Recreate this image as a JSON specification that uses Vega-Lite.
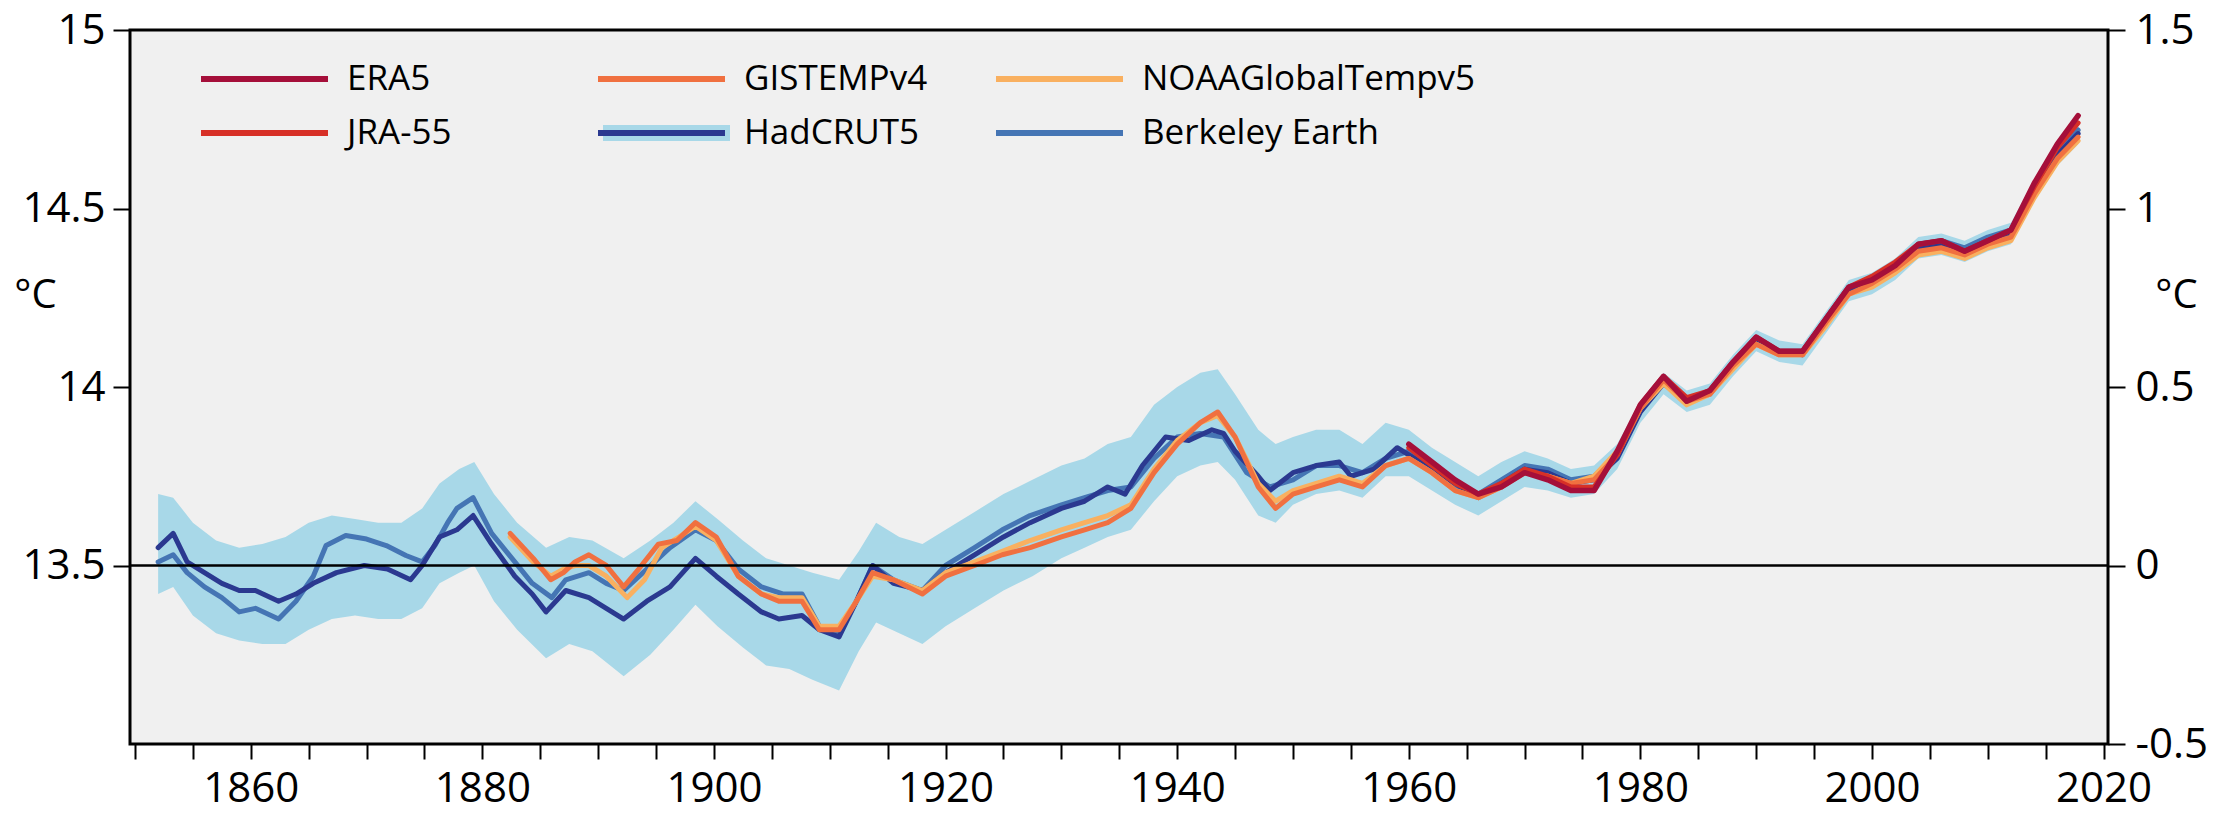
{
  "$schema": "https://vega.github.io/schema/vega-lite/v6.json",
  "width": 1978,
  "height": 714,
  "autosize": {"type": "none"},
  "padding": {"left": 130, "top": 30, "right": 110, "bottom": 69},
  "background": "white",
  "config": {
    "font": "Open Sans",
    "view": {"fill": "#f0f0f0", "stroke": "#000000", "strokeWidth": 3},
    "axis": {"domain": false, "grid": false, "tickColor": "#000000", "tickWidth": 2, "labelColor": "#000000", "titleColor": "#000000", "labelFont": "Open Sans", "titleFont": "Open Sans", "titleFontWeight": "normal"},
    "legend": {"orient": "none", "clipHeight": 40, "symbolType": "stroke", "symbolSize": 16129, "symbolStrokeWidth": 6, "labelOffset": 16, "labelLimit": 500, "labelFontSize": 35, "labelColor": "#000000", "labelFont": "Open Sans", "padding": 0, "titleFontSize": 1}
  },
  "datasets": {
    "band": [
      {"x":1852,"lo":13.42,"hi":13.70},{"x":1853.3,"lo":13.44,"hi":13.69},{"x":1855,"lo":13.36,"hi":13.62},{"x":1857,"lo":13.31,"hi":13.57},{"x":1859,"lo":13.29,"hi":13.55},{"x":1861,"lo":13.28,"hi":13.56},{"x":1863,"lo":13.28,"hi":13.58},{"x":1865,"lo":13.32,"hi":13.62},{"x":1867,"lo":13.35,"hi":13.64},{"x":1869,"lo":13.36,"hi":13.63},{"x":1871,"lo":13.35,"hi":13.62},{"x":1873,"lo":13.35,"hi":13.62},{"x":1874.8,"lo":13.38,"hi":13.66},{"x":1876.3,"lo":13.45,"hi":13.73},{"x":1878,"lo":13.48,"hi":13.77},{"x":1879.3,"lo":13.50,"hi":13.79},{"x":1881,"lo":13.40,"hi":13.70},{"x":1883,"lo":13.32,"hi":13.62},{"x":1885.5,"lo":13.24,"hi":13.55},{"x":1887.5,"lo":13.28,"hi":13.58},{"x":1889.5,"lo":13.26,"hi":13.57},{"x":1892.2,"lo":13.19,"hi":13.52},{"x":1894.5,"lo":13.25,"hi":13.57},{"x":1896.5,"lo":13.32,"hi":13.62},{"x":1898.4,"lo":13.39,"hi":13.68},{"x":1900.3,"lo":13.33,"hi":13.63},{"x":1902.5,"lo":13.27,"hi":13.57},{"x":1904.5,"lo":13.22,"hi":13.52},{"x":1906.5,"lo":13.21,"hi":13.50},{"x":1908.5,"lo":13.18,"hi":13.48},{"x":1910.8,"lo":13.15,"hi":13.46},{"x":1912.5,"lo":13.26,"hi":13.54},{"x":1914,"lo":13.34,"hi":13.62},{"x":1916,"lo":13.31,"hi":13.58},{"x":1918,"lo":13.28,"hi":13.56},{"x":1920,"lo":13.33,"hi":13.60},{"x":1922.5,"lo":13.38,"hi":13.65},{"x":1925,"lo":13.43,"hi":13.70},{"x":1927.5,"lo":13.47,"hi":13.74},{"x":1930,"lo":13.52,"hi":13.78},{"x":1932,"lo":13.55,"hi":13.80},{"x":1934,"lo":13.58,"hi":13.84},{"x":1936,"lo":13.60,"hi":13.86},{"x":1938,"lo":13.68,"hi":13.95},{"x":1940,"lo":13.75,"hi":14.00},{"x":1942,"lo":13.78,"hi":14.04},{"x":1943.5,"lo":13.79,"hi":14.05},{"x":1945,"lo":13.74,"hi":13.98},{"x":1947,"lo":13.64,"hi":13.88},{"x":1948.5,"lo":13.62,"hi":13.84},{"x":1950,"lo":13.67,"hi":13.86},{"x":1952,"lo":13.70,"hi":13.88},{"x":1954,"lo":13.71,"hi":13.88},{"x":1956,"lo":13.69,"hi":13.84},{"x":1958,"lo":13.75,"hi":13.90},{"x":1960,"lo":13.75,"hi":13.88},{"x":1962,"lo":13.71,"hi":13.83},{"x":1964,"lo":13.67,"hi":13.79},{"x":1966,"lo":13.64,"hi":13.75},{"x":1968,"lo":13.68,"hi":13.79},{"x":1970,"lo":13.72,"hi":13.82},{"x":1972,"lo":13.71,"hi":13.80},{"x":1974,"lo":13.69,"hi":13.77},{"x":1976,"lo":13.70,"hi":13.78},{"x":1978,"lo":13.77,"hi":13.84},{"x":1980,"lo":13.90,"hi":13.96},{"x":1982,"lo":13.98,"hi":14.04},{"x":1984,"lo":13.93,"hi":13.99},{"x":1986,"lo":13.95,"hi":14.01},{"x":1988,"lo":14.03,"hi":14.09},{"x":1990,"lo":14.10,"hi":14.16},{"x":1992,"lo":14.07,"hi":14.13},{"x":1994,"lo":14.06,"hi":14.12},{"x":1996,"lo":14.15,"hi":14.21},{"x":1998,"lo":14.24,"hi":14.30},{"x":2000,"lo":14.26,"hi":14.32},{"x":2002,"lo":14.30,"hi":14.36},{"x":2004,"lo":14.36,"hi":14.42},{"x":2006,"lo":14.37,"hi":14.43},{"x":2008,"lo":14.35,"hi":14.41},{"x":2010,"lo":14.38,"hi":14.44},{"x":2012,"lo":14.40,"hi":14.46},{"x":2014,"lo":14.52,"hi":14.58},{"x":2016,"lo":14.62,"hi":14.68},{"x":2017.8,"lo":14.68,"hi":14.74}
    ],
    "series": [
      {"s":"Berkeley Earth","x":1852,"t":13.51},{"s":"Berkeley Earth","x":1853.3,"t":13.53},{"s":"Berkeley Earth","x":1854.5,"t":13.48},{"s":"Berkeley Earth","x":1856,"t":13.44},{"s":"Berkeley Earth","x":1857.5,"t":13.41},{"s":"Berkeley Earth","x":1859,"t":13.37},{"s":"Berkeley Earth","x":1860.4,"t":13.38},{"s":"Berkeley Earth","x":1862.4,"t":13.35},{"s":"Berkeley Earth","x":1863.9,"t":13.40},{"s":"Berkeley Earth","x":1865.4,"t":13.47},{"s":"Berkeley Earth","x":1866.5,"t":13.556},{"s":"Berkeley Earth","x":1868.2,"t":13.584},{"s":"Berkeley Earth","x":1870,"t":13.574},{"s":"Berkeley Earth","x":1871.7,"t":13.556},{"s":"Berkeley Earth","x":1873.4,"t":13.528},{"s":"Berkeley Earth","x":1874.8,"t":13.51},{"s":"Berkeley Earth","x":1875.9,"t":13.556},{"s":"Berkeley Earth","x":1877,"t":13.62},{"s":"Berkeley Earth","x":1877.8,"t":13.66},{"s":"Berkeley Earth","x":1879.2,"t":13.69},{"s":"Berkeley Earth","x":1880.8,"t":13.59},{"s":"Berkeley Earth","x":1882.8,"t":13.51},{"s":"Berkeley Earth","x":1884.3,"t":13.45},{"s":"Berkeley Earth","x":1886,"t":13.41},{"s":"Berkeley Earth","x":1887.2,"t":13.46},{"s":"Berkeley Earth","x":1889.2,"t":13.48},{"s":"Berkeley Earth","x":1890.7,"t":13.45},{"s":"Berkeley Earth","x":1892.2,"t":13.43},{"s":"Berkeley Earth","x":1894.2,"t":13.49},{"s":"Berkeley Earth","x":1896.2,"t":13.55},{"s":"Berkeley Earth","x":1898.4,"t":13.60},{"s":"Berkeley Earth","x":1900.2,"t":13.57},{"s":"Berkeley Earth","x":1902.1,"t":13.49},{"s":"Berkeley Earth","x":1904.1,"t":13.44},{"s":"Berkeley Earth","x":1906,"t":13.42},{"s":"Berkeley Earth","x":1907.6,"t":13.42},{"s":"Berkeley Earth","x":1909.1,"t":13.33},{"s":"Berkeley Earth","x":1910.8,"t":13.31},{"s":"Berkeley Earth","x":1912.3,"t":13.40},{"s":"Berkeley Earth","x":1913.7,"t":13.50},{"s":"Berkeley Earth","x":1915.5,"t":13.46},{"s":"Berkeley Earth","x":1918,"t":13.43},{"s":"Berkeley Earth","x":1920,"t":13.50},{"s":"Berkeley Earth","x":1922.5,"t":13.55},{"s":"Berkeley Earth","x":1924.9,"t":13.60},{"s":"Berkeley Earth","x":1927.3,"t":13.64},{"s":"Berkeley Earth","x":1930,"t":13.67},{"s":"Berkeley Earth","x":1932,"t":13.69},{"s":"Berkeley Earth","x":1934,"t":13.71},{"s":"Berkeley Earth","x":1936,"t":13.72},{"s":"Berkeley Earth","x":1938,"t":13.80},{"s":"Berkeley Earth","x":1940,"t":13.86},{"s":"Berkeley Earth","x":1942,"t":13.87},{"s":"Berkeley Earth","x":1944,"t":13.86},{"s":"Berkeley Earth","x":1946,"t":13.76},{"s":"Berkeley Earth","x":1948,"t":13.72},{"s":"Berkeley Earth","x":1950,"t":13.74},{"s":"Berkeley Earth","x":1952,"t":13.78},{"s":"Berkeley Earth","x":1954,"t":13.78},{"s":"Berkeley Earth","x":1956,"t":13.76},{"s":"Berkeley Earth","x":1958,"t":13.80},{"s":"Berkeley Earth","x":1960,"t":13.82},{"s":"Berkeley Earth","x":1962,"t":13.78},{"s":"Berkeley Earth","x":1964,"t":13.72},{"s":"Berkeley Earth","x":1966,"t":13.70},{"s":"Berkeley Earth","x":1968,"t":13.74},{"s":"Berkeley Earth","x":1970,"t":13.78},{"s":"Berkeley Earth","x":1972,"t":13.77},{"s":"Berkeley Earth","x":1974,"t":13.74},{"s":"Berkeley Earth","x":1976,"t":13.75},{"s":"Berkeley Earth","x":1978,"t":13.81},{"s":"Berkeley Earth","x":1980,"t":13.94},{"s":"Berkeley Earth","x":1982,"t":14.02},{"s":"Berkeley Earth","x":1984,"t":13.96},{"s":"Berkeley Earth","x":1986,"t":13.99},{"s":"Berkeley Earth","x":1988,"t":14.07},{"s":"Berkeley Earth","x":1990,"t":14.13},{"s":"Berkeley Earth","x":1992,"t":14.10},{"s":"Berkeley Earth","x":1994,"t":14.10},{"s":"Berkeley Earth","x":1996,"t":14.19},{"s":"Berkeley Earth","x":1998,"t":14.28},{"s":"Berkeley Earth","x":2000,"t":14.30},{"s":"Berkeley Earth","x":2002,"t":14.34},{"s":"Berkeley Earth","x":2004,"t":14.40},{"s":"Berkeley Earth","x":2006,"t":14.41},{"s":"Berkeley Earth","x":2008,"t":14.39},{"s":"Berkeley Earth","x":2010,"t":14.42},{"s":"Berkeley Earth","x":2012,"t":14.44},{"s":"Berkeley Earth","x":2014,"t":14.56},{"s":"Berkeley Earth","x":2016,"t":14.66},{"s":"Berkeley Earth","x":2017.8,"t":14.72},

      {"s":"HadCRUT5","x":1852,"t":13.55},{"s":"HadCRUT5","x":1853.3,"t":13.59},{"s":"HadCRUT5","x":1854.5,"t":13.51},{"s":"HadCRUT5","x":1856,"t":13.48},{"s":"HadCRUT5","x":1857.5,"t":13.45},{"s":"HadCRUT5","x":1859,"t":13.43},{"s":"HadCRUT5","x":1860.4,"t":13.43},{"s":"HadCRUT5","x":1862.4,"t":13.40},{"s":"HadCRUT5","x":1863.9,"t":13.42},{"s":"HadCRUT5","x":1865.4,"t":13.45},{"s":"HadCRUT5","x":1867.4,"t":13.48},{"s":"HadCRUT5","x":1869.8,"t":13.50},{"s":"HadCRUT5","x":1871.8,"t":13.49},{"s":"HadCRUT5","x":1873.8,"t":13.46},{"s":"HadCRUT5","x":1874.8,"t":13.50},{"s":"HadCRUT5","x":1876.3,"t":13.58},{"s":"HadCRUT5","x":1877.8,"t":13.60},{"s":"HadCRUT5","x":1879.2,"t":13.64},{"s":"HadCRUT5","x":1880.8,"t":13.56},{"s":"HadCRUT5","x":1882.8,"t":13.47},{"s":"HadCRUT5","x":1884.3,"t":13.42},{"s":"HadCRUT5","x":1885.5,"t":13.37},{"s":"HadCRUT5","x":1887.2,"t":13.43},{"s":"HadCRUT5","x":1889.2,"t":13.41},{"s":"HadCRUT5","x":1890.7,"t":13.38},{"s":"HadCRUT5","x":1892.2,"t":13.35},{"s":"HadCRUT5","x":1894.2,"t":13.40},{"s":"HadCRUT5","x":1896.2,"t":13.44},{"s":"HadCRUT5","x":1898.4,"t":13.52},{"s":"HadCRUT5","x":1900.2,"t":13.47},{"s":"HadCRUT5","x":1902.1,"t":13.42},{"s":"HadCRUT5","x":1904.1,"t":13.37},{"s":"HadCRUT5","x":1905.6,"t":13.35},{"s":"HadCRUT5","x":1907.6,"t":13.36},{"s":"HadCRUT5","x":1909.1,"t":13.32},{"s":"HadCRUT5","x":1910.8,"t":13.30},{"s":"HadCRUT5","x":1912.3,"t":13.40},{"s":"HadCRUT5","x":1913.7,"t":13.50},{"s":"HadCRUT5","x":1915.5,"t":13.45},{"s":"HadCRUT5","x":1918,"t":13.43},{"s":"HadCRUT5","x":1920,"t":13.48},{"s":"HadCRUT5","x":1922.5,"t":13.53},{"s":"HadCRUT5","x":1925,"t":13.58},{"s":"HadCRUT5","x":1927.3,"t":13.62},{"s":"HadCRUT5","x":1930,"t":13.66},{"s":"HadCRUT5","x":1932,"t":13.68},{"s":"HadCRUT5","x":1934,"t":13.72},{"s":"HadCRUT5","x":1935.5,"t":13.70},{"s":"HadCRUT5","x":1937,"t":13.78},{"s":"HadCRUT5","x":1939,"t":13.86},{"s":"HadCRUT5","x":1941,"t":13.85},{"s":"HadCRUT5","x":1943,"t":13.88},{"s":"HadCRUT5","x":1944,"t":13.87},{"s":"HadCRUT5","x":1945,"t":13.82},{"s":"HadCRUT5","x":1947,"t":13.75},{"s":"HadCRUT5","x":1948,"t":13.71},{"s":"HadCRUT5","x":1950,"t":13.76},{"s":"HadCRUT5","x":1952,"t":13.78},{"s":"HadCRUT5","x":1954,"t":13.79},{"s":"HadCRUT5","x":1955,"t":13.75},{"s":"HadCRUT5","x":1957,"t":13.77},{"s":"HadCRUT5","x":1959,"t":13.83},{"s":"HadCRUT5","x":1960,"t":13.81},{"s":"HadCRUT5","x":1962,"t":13.77},{"s":"HadCRUT5","x":1964,"t":13.73},{"s":"HadCRUT5","x":1966,"t":13.69},{"s":"HadCRUT5","x":1968,"t":13.73},{"s":"HadCRUT5","x":1970,"t":13.77},{"s":"HadCRUT5","x":1972,"t":13.76},{"s":"HadCRUT5","x":1974,"t":13.73},{"s":"HadCRUT5","x":1976,"t":13.74},{"s":"HadCRUT5","x":1978,"t":13.80},{"s":"HadCRUT5","x":1980,"t":13.93},{"s":"HadCRUT5","x":1982,"t":14.01},{"s":"HadCRUT5","x":1984,"t":13.96},{"s":"HadCRUT5","x":1986,"t":13.98},{"s":"HadCRUT5","x":1988,"t":14.06},{"s":"HadCRUT5","x":1990,"t":14.13},{"s":"HadCRUT5","x":1992,"t":14.10},{"s":"HadCRUT5","x":1994,"t":14.09},{"s":"HadCRUT5","x":1996,"t":14.18},{"s":"HadCRUT5","x":1998,"t":14.27},{"s":"HadCRUT5","x":2000,"t":14.29},{"s":"HadCRUT5","x":2002,"t":14.33},{"s":"HadCRUT5","x":2004,"t":14.39},{"s":"HadCRUT5","x":2006,"t":14.40},{"s":"HadCRUT5","x":2008,"t":14.38},{"s":"HadCRUT5","x":2010,"t":14.41},{"s":"HadCRUT5","x":2012,"t":14.43},{"s":"HadCRUT5","x":2014,"t":14.55},{"s":"HadCRUT5","x":2016,"t":14.65},{"s":"HadCRUT5","x":2017.8,"t":14.71},

      {"s":"NOAAGlobalTempv5","x":1882.4,"t":13.58},{"s":"NOAAGlobalTempv5","x":1884.4,"t":13.51},{"s":"NOAAGlobalTempv5","x":1885.9,"t":13.47},{"s":"NOAAGlobalTempv5","x":1887,"t":13.49},{"s":"NOAAGlobalTempv5","x":1888,"t":13.50},{"s":"NOAAGlobalTempv5","x":1889.2,"t":13.50},{"s":"NOAAGlobalTempv5","x":1890.7,"t":13.47},{"s":"NOAAGlobalTempv5","x":1892.5,"t":13.41},{"s":"NOAAGlobalTempv5","x":1894,"t":13.46},{"s":"NOAAGlobalTempv5","x":1895.5,"t":13.55},{"s":"NOAAGlobalTempv5","x":1897,"t":13.58},{"s":"NOAAGlobalTempv5","x":1898.4,"t":13.61},{"s":"NOAAGlobalTempv5","x":1900.2,"t":13.57},{"s":"NOAAGlobalTempv5","x":1902.1,"t":13.47},{"s":"NOAAGlobalTempv5","x":1904.1,"t":13.42},{"s":"NOAAGlobalTempv5","x":1905.6,"t":13.41},{"s":"NOAAGlobalTempv5","x":1907.6,"t":13.41},{"s":"NOAAGlobalTempv5","x":1909.1,"t":13.33},{"s":"NOAAGlobalTempv5","x":1910.8,"t":13.33},{"s":"NOAAGlobalTempv5","x":1912.3,"t":13.40},{"s":"NOAAGlobalTempv5","x":1913.7,"t":13.47},{"s":"NOAAGlobalTempv5","x":1915.5,"t":13.46},{"s":"NOAAGlobalTempv5","x":1918,"t":13.43},{"s":"NOAAGlobalTempv5","x":1920,"t":13.48},{"s":"NOAAGlobalTempv5","x":1922.5,"t":13.51},{"s":"NOAAGlobalTempv5","x":1924.9,"t":13.54},{"s":"NOAAGlobalTempv5","x":1927.3,"t":13.57},{"s":"NOAAGlobalTempv5","x":1930,"t":13.60},{"s":"NOAAGlobalTempv5","x":1932,"t":13.62},{"s":"NOAAGlobalTempv5","x":1934,"t":13.64},{"s":"NOAAGlobalTempv5","x":1936,"t":13.67},{"s":"NOAAGlobalTempv5","x":1938,"t":13.77},{"s":"NOAAGlobalTempv5","x":1940,"t":13.85},{"s":"NOAAGlobalTempv5","x":1942,"t":13.90},{"s":"NOAAGlobalTempv5","x":1943.5,"t":13.92},{"s":"NOAAGlobalTempv5","x":1945,"t":13.86},{"s":"NOAAGlobalTempv5","x":1947,"t":13.73},{"s":"NOAAGlobalTempv5","x":1948.5,"t":13.68},{"s":"NOAAGlobalTempv5","x":1950,"t":13.71},{"s":"NOAAGlobalTempv5","x":1952,"t":13.73},{"s":"NOAAGlobalTempv5","x":1954,"t":13.75},{"s":"NOAAGlobalTempv5","x":1956,"t":13.73},{"s":"NOAAGlobalTempv5","x":1958,"t":13.78},{"s":"NOAAGlobalTempv5","x":1960,"t":13.80},{"s":"NOAAGlobalTempv5","x":1962,"t":13.76},{"s":"NOAAGlobalTempv5","x":1964,"t":13.71},{"s":"NOAAGlobalTempv5","x":1966,"t":13.69},{"s":"NOAAGlobalTempv5","x":1968,"t":13.72},{"s":"NOAAGlobalTempv5","x":1970,"t":13.76},{"s":"NOAAGlobalTempv5","x":1972,"t":13.75},{"s":"NOAAGlobalTempv5","x":1974,"t":13.73},{"s":"NOAAGlobalTempv5","x":1976,"t":13.75},{"s":"NOAAGlobalTempv5","x":1978,"t":13.82},{"s":"NOAAGlobalTempv5","x":1980,"t":13.94},{"s":"NOAAGlobalTempv5","x":1982,"t":14.01},{"s":"NOAAGlobalTempv5","x":1984,"t":13.95},{"s":"NOAAGlobalTempv5","x":1986,"t":13.98},{"s":"NOAAGlobalTempv5","x":1988,"t":14.05},{"s":"NOAAGlobalTempv5","x":1990,"t":14.12},{"s":"NOAAGlobalTempv5","x":1992,"t":14.09},{"s":"NOAAGlobalTempv5","x":1994,"t":14.09},{"s":"NOAAGlobalTempv5","x":1996,"t":14.17},{"s":"NOAAGlobalTempv5","x":1998,"t":14.26},{"s":"NOAAGlobalTempv5","x":2000,"t":14.28},{"s":"NOAAGlobalTempv5","x":2002,"t":14.32},{"s":"NOAAGlobalTempv5","x":2004,"t":14.37},{"s":"NOAAGlobalTempv5","x":2006,"t":14.38},{"s":"NOAAGlobalTempv5","x":2008,"t":14.36},{"s":"NOAAGlobalTempv5","x":2010,"t":14.39},{"s":"NOAAGlobalTempv5","x":2012,"t":14.41},{"s":"NOAAGlobalTempv5","x":2014,"t":14.53},{"s":"NOAAGlobalTempv5","x":2016,"t":14.63},{"s":"NOAAGlobalTempv5","x":2017.8,"t":14.69},

      {"s":"GISTEMPv4","x":1882.4,"t":13.59},{"s":"GISTEMPv4","x":1884.4,"t":13.52},{"s":"GISTEMPv4","x":1885.9,"t":13.46},{"s":"GISTEMPv4","x":1887,"t":13.48},{"s":"GISTEMPv4","x":1888,"t":13.51},{"s":"GISTEMPv4","x":1889.2,"t":13.53},{"s":"GISTEMPv4","x":1890.7,"t":13.50},{"s":"GISTEMPv4","x":1892.2,"t":13.44},{"s":"GISTEMPv4","x":1893.5,"t":13.49},{"s":"GISTEMPv4","x":1895.2,"t":13.56},{"s":"GISTEMPv4","x":1896.8,"t":13.57},{"s":"GISTEMPv4","x":1898.4,"t":13.62},{"s":"GISTEMPv4","x":1900.2,"t":13.58},{"s":"GISTEMPv4","x":1902.1,"t":13.47},{"s":"GISTEMPv4","x":1904.1,"t":13.42},{"s":"GISTEMPv4","x":1905.6,"t":13.40},{"s":"GISTEMPv4","x":1907.6,"t":13.40},{"s":"GISTEMPv4","x":1909.1,"t":13.32},{"s":"GISTEMPv4","x":1910.8,"t":13.32},{"s":"GISTEMPv4","x":1912.3,"t":13.40},{"s":"GISTEMPv4","x":1913.7,"t":13.48},{"s":"GISTEMPv4","x":1915.5,"t":13.46},{"s":"GISTEMPv4","x":1918,"t":13.42},{"s":"GISTEMPv4","x":1920,"t":13.47},{"s":"GISTEMPv4","x":1922.5,"t":13.50},{"s":"GISTEMPv4","x":1924.9,"t":13.53},{"s":"GISTEMPv4","x":1927.3,"t":13.55},{"s":"GISTEMPv4","x":1930,"t":13.58},{"s":"GISTEMPv4","x":1932,"t":13.60},{"s":"GISTEMPv4","x":1934,"t":13.62},{"s":"GISTEMPv4","x":1936,"t":13.66},{"s":"GISTEMPv4","x":1938,"t":13.76},{"s":"GISTEMPv4","x":1940,"t":13.84},{"s":"GISTEMPv4","x":1942,"t":13.90},{"s":"GISTEMPv4","x":1943.5,"t":13.93},{"s":"GISTEMPv4","x":1945,"t":13.86},{"s":"GISTEMPv4","x":1947,"t":13.72},{"s":"GISTEMPv4","x":1948.5,"t":13.66},{"s":"GISTEMPv4","x":1950,"t":13.70},{"s":"GISTEMPv4","x":1952,"t":13.72},{"s":"GISTEMPv4","x":1954,"t":13.74},{"s":"GISTEMPv4","x":1956,"t":13.72},{"s":"GISTEMPv4","x":1958,"t":13.78},{"s":"GISTEMPv4","x":1960,"t":13.80},{"s":"GISTEMPv4","x":1962,"t":13.76},{"s":"GISTEMPv4","x":1964,"t":13.71},{"s":"GISTEMPv4","x":1966,"t":13.69},{"s":"GISTEMPv4","x":1968,"t":13.72},{"s":"GISTEMPv4","x":1970,"t":13.76},{"s":"GISTEMPv4","x":1972,"t":13.75},{"s":"GISTEMPv4","x":1974,"t":13.73},{"s":"GISTEMPv4","x":1976,"t":13.74},{"s":"GISTEMPv4","x":1978,"t":13.81},{"s":"GISTEMPv4","x":1980,"t":13.94},{"s":"GISTEMPv4","x":1982,"t":14.02},{"s":"GISTEMPv4","x":1984,"t":13.96},{"s":"GISTEMPv4","x":1986,"t":13.98},{"s":"GISTEMPv4","x":1988,"t":14.06},{"s":"GISTEMPv4","x":1990,"t":14.12},{"s":"GISTEMPv4","x":1992,"t":14.09},{"s":"GISTEMPv4","x":1994,"t":14.09},{"s":"GISTEMPv4","x":1996,"t":14.18},{"s":"GISTEMPv4","x":1998,"t":14.26},{"s":"GISTEMPv4","x":2000,"t":14.29},{"s":"GISTEMPv4","x":2002,"t":14.33},{"s":"GISTEMPv4","x":2004,"t":14.38},{"s":"GISTEMPv4","x":2006,"t":14.39},{"s":"GISTEMPv4","x":2008,"t":14.37},{"s":"GISTEMPv4","x":2010,"t":14.40},{"s":"GISTEMPv4","x":2012,"t":14.42},{"s":"GISTEMPv4","x":2014,"t":14.54},{"s":"GISTEMPv4","x":2016,"t":14.64},{"s":"GISTEMPv4","x":2017.8,"t":14.70},

      {"s":"JRA-55","x":1960,"t":13.83},{"s":"JRA-55","x":1962,"t":13.78},{"s":"JRA-55","x":1964,"t":13.73},{"s":"JRA-55","x":1966,"t":13.70},{"s":"JRA-55","x":1968,"t":13.73},{"s":"JRA-55","x":1970,"t":13.77},{"s":"JRA-55","x":1972,"t":13.75},{"s":"JRA-55","x":1974,"t":13.72},{"s":"JRA-55","x":1976,"t":13.72},{"s":"JRA-55","x":1978,"t":13.81},{"s":"JRA-55","x":1980,"t":13.95},{"s":"JRA-55","x":1982,"t":14.03},{"s":"JRA-55","x":1984,"t":13.97},{"s":"JRA-55","x":1986,"t":13.99},{"s":"JRA-55","x":1988,"t":14.07},{"s":"JRA-55","x":1990,"t":14.14},{"s":"JRA-55","x":1992,"t":14.10},{"s":"JRA-55","x":1994,"t":14.10},{"s":"JRA-55","x":1996,"t":14.19},{"s":"JRA-55","x":1998,"t":14.28},{"s":"JRA-55","x":2000,"t":14.31},{"s":"JRA-55","x":2002,"t":14.35},{"s":"JRA-55","x":2004,"t":14.40},{"s":"JRA-55","x":2006,"t":14.41},{"s":"JRA-55","x":2008,"t":14.38},{"s":"JRA-55","x":2010,"t":14.41},{"s":"JRA-55","x":2012,"t":14.44},{"s":"JRA-55","x":2014,"t":14.56},{"s":"JRA-55","x":2016,"t":14.67},{"s":"JRA-55","x":2017.8,"t":14.74},

      {"s":"ERA5","x":1960,"t":13.84},{"s":"ERA5","x":1962,"t":13.79},{"s":"ERA5","x":1964,"t":13.74},{"s":"ERA5","x":1966,"t":13.70},{"s":"ERA5","x":1968,"t":13.72},{"s":"ERA5","x":1970,"t":13.76},{"s":"ERA5","x":1972,"t":13.74},{"s":"ERA5","x":1974,"t":13.71},{"s":"ERA5","x":1976,"t":13.71},{"s":"ERA5","x":1978,"t":13.82},{"s":"ERA5","x":1980,"t":13.95},{"s":"ERA5","x":1982,"t":14.03},{"s":"ERA5","x":1984,"t":13.96},{"s":"ERA5","x":1986,"t":13.99},{"s":"ERA5","x":1988,"t":14.07},{"s":"ERA5","x":1990,"t":14.14},{"s":"ERA5","x":1992,"t":14.10},{"s":"ERA5","x":1994,"t":14.10},{"s":"ERA5","x":1996,"t":14.19},{"s":"ERA5","x":1998,"t":14.28},{"s":"ERA5","x":2000,"t":14.30},{"s":"ERA5","x":2002,"t":14.34},{"s":"ERA5","x":2004,"t":14.40},{"s":"ERA5","x":2006,"t":14.41},{"s":"ERA5","x":2008,"t":14.38},{"s":"ERA5","x":2010,"t":14.41},{"s":"ERA5","x":2012,"t":14.44},{"s":"ERA5","x":2014,"t":14.57},{"s":"ERA5","x":2016,"t":14.68},{"s":"ERA5","x":2017.8,"t":14.76}
    ]
  },
  "layer": [
    {
      "layer": [
        {
          "data": {"name": "band"},
          "mark": {"type": "area"},
          "encoding": {
            "x": {"field": "x", "type": "quantitative", "scale": {"domain": [1849.57, 2020.38], "nice": false, "zero": false},
                  "axis": {"values": [1850,1855,1860,1865,1870,1875,1880,1885,1890,1895,1900,1905,1910,1915,1920,1925,1930,1935,1940,1945,1950,1955,1960,1965,1970,1975,1980,1985,1990,1995,2000,2005,2010,2015,2020],
                           "format": "d", "labelExpr": "datum.value % 20 == 0 ? datum.label : ''", "labelFontSize": 42, "labelPadding": 9, "tickSize": 15, "labelOverlap": false, "labelFlush": false, "title": null}},
            "y": {"field": "lo", "type": "quantitative", "scale": {"domain": [13, 15], "nice": false, "zero": false},
                  "axis": {"values": [13.5, 14, 14.5, 15], "format": "~g", "labelFontSize": 42, "labelPadding": 8, "tickSize": 17, "labelFlush": false, "labelOverlap": false,
                           "title": "°C", "titleAngle": 0, "titleFontSize": 40, "titleX": -95, "titleY": 265, "titleAlign": "center", "titleBaseline": "middle"}},
            "y2": {"field": "hi"},
            "fill": {"datum": "HadCRUT5 range", "type": "nominal", "scale": {"range": ["#a8d8e8"]},
                     "legend": {"legendX": 465, "legendY": 83, "title": null, "labelExpr": "''", "symbolStrokeWidth": 16, "symbolStrokeColor": "#a8d8e8", "symbolFillColor": "transparent",
                                "encode": {"symbols": {"update": {"stroke": {"value": "#a8d8e8"}, "strokeWidth": {"value": 16}, "fill": {"value": "transparent"}}}}}}
          }
        },
        {
          "data": {"name": "series"},
          "transform": [{"filter": {"field": "s", "equal": "Berkeley Earth"}}],
          "mark": {"type": "line", "strokeWidth": 5, "strokeJoin": "round", "strokeCap": "round"},
          "encoding": {
            "x": {"field": "x", "type": "quantitative"},
            "y": {"field": "t", "type": "quantitative"},
            "color": {"field": "s", "type": "nominal", "scale": {"domain": ["Berkeley Earth"], "range": ["#4575b4"]}, "legend": {"legendX": 863, "legendY": 83, "title": null}}
          }
        },
        {
          "data": {"name": "series"},
          "transform": [{"filter": {"field": "s", "equal": "HadCRUT5"}}],
          "mark": {"type": "line", "strokeWidth": 5, "strokeJoin": "round", "strokeCap": "round"},
          "encoding": {
            "x": {"field": "x", "type": "quantitative"},
            "y": {"field": "t", "type": "quantitative"},
            "color": {"field": "s", "type": "nominal", "scale": {"domain": ["HadCRUT5"], "range": ["#2b3990"]}, "legend": {"legendX": 465, "legendY": 83, "title": null}}
          }
        },
        {
          "data": {"name": "series"},
          "transform": [{"filter": {"field": "s", "equal": "NOAAGlobalTempv5"}}],
          "mark": {"type": "line", "strokeWidth": 5, "strokeJoin": "round", "strokeCap": "round"},
          "encoding": {
            "x": {"field": "x", "type": "quantitative"},
            "y": {"field": "t", "type": "quantitative"},
            "color": {"field": "s", "type": "nominal", "scale": {"domain": ["NOAAGlobalTempv5"], "range": ["#f9b060"]}, "legend": {"legendX": 863, "legendY": 29, "title": null}}
          }
        },
        {
          "data": {"name": "series"},
          "transform": [{"filter": {"field": "s", "equal": "GISTEMPv4"}}],
          "mark": {"type": "line", "strokeWidth": 5, "strokeJoin": "round", "strokeCap": "round"},
          "encoding": {
            "x": {"field": "x", "type": "quantitative"},
            "y": {"field": "t", "type": "quantitative"},
            "color": {"field": "s", "type": "nominal", "scale": {"domain": ["GISTEMPv4"], "range": ["#f07040"]}, "legend": {"legendX": 465, "legendY": 29, "title": null}}
          }
        },
        {
          "data": {"name": "series"},
          "transform": [{"filter": {"field": "s", "equal": "JRA-55"}}],
          "mark": {"type": "line", "strokeWidth": 5, "strokeJoin": "round", "strokeCap": "round"},
          "encoding": {
            "x": {"field": "x", "type": "quantitative"},
            "y": {"field": "t", "type": "quantitative"},
            "color": {"field": "s", "type": "nominal", "scale": {"domain": ["JRA-55"], "range": ["#d73027"]}, "legend": {"legendX": 68, "legendY": 83, "title": null}}
          }
        },
        {
          "data": {"name": "series"},
          "transform": [{"filter": {"field": "s", "equal": "ERA5"}}],
          "mark": {"type": "line", "strokeWidth": 5.5, "strokeJoin": "round", "strokeCap": "round"},
          "encoding": {
            "x": {"field": "x", "type": "quantitative"},
            "y": {"field": "t", "type": "quantitative"},
            "color": {"field": "s", "type": "nominal", "scale": {"domain": ["ERA5"], "range": ["#a50f3a"]}, "legend": {"legendX": 68, "legendY": 29, "title": null}}
          }
        },
        {
          "data": {"values": [{"v": 13.5}]},
          "mark": {"type": "rule", "color": "#000000", "strokeWidth": 2.5},
          "encoding": {"y": {"field": "v", "type": "quantitative"}}
        }
      ],
      "resolve": {"scale": {"color": "independent"}, "legend": {"color": "independent"}}
    },
    {
      "data": {"values": [{"a": 0}]},
      "mark": {"type": "point", "opacity": 0},
      "encoding": {
        "y": {"field": "a", "type": "quantitative", "scale": {"domain": [-0.5, 1.5], "nice": false, "zero": false},
              "axis": {"orient": "right", "values": [-0.5, 0, 0.5, 1, 1.5], "format": "~g", "labelExpr": "replace(datum.label, '−', '-')", "labelFontSize": 42, "labelPadding": 10, "tickSize": 17, "labelFlush": false, "labelOverlap": false,
                       "title": "°C", "titleAngle": 0, "titleFontSize": 40, "titleX": 68, "titleY": 265, "titleAlign": "center", "titleBaseline": "middle"}}
      }
    }
  ],
  "resolve": {"scale": {"y": "independent"}}
}
